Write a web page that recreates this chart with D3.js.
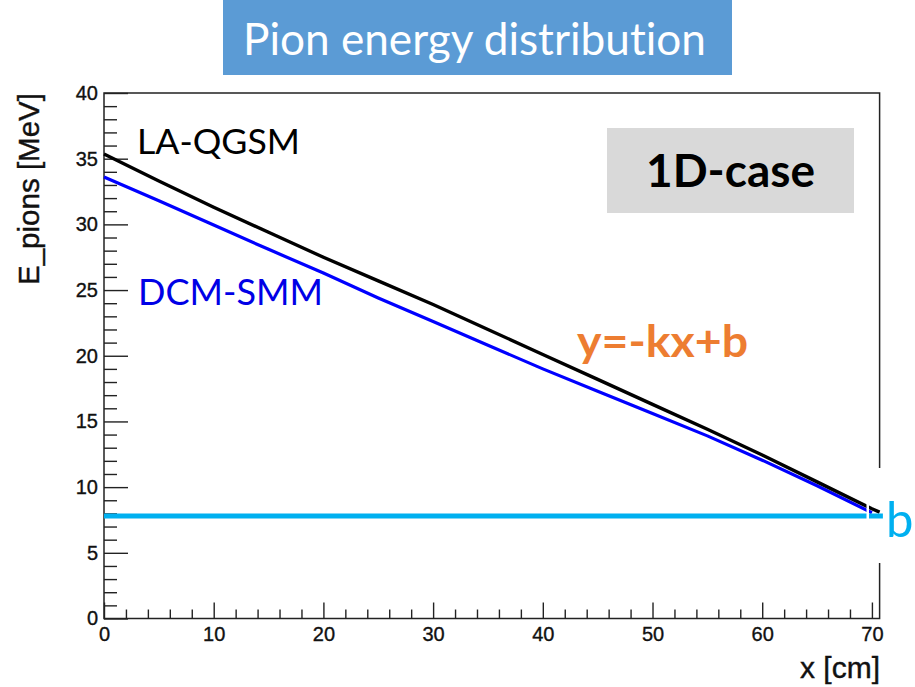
<!DOCTYPE html>
<html>
<head>
<meta charset="utf-8">
<script src="https://cdn.jsdelivr.net/npm/d3@7"></script>
<style>
  html, body { margin: 0; padding: 0; background: #fff; }
  svg { display: block; }
  text { font-variant-ligatures: none; }
</style>
</head>
<body>
<svg id="chart" width="915" height="687"></svg>
<script>
// Mean pion energy along the target, two transport models
const xCm      = [0, 5, 10, 15, 20, 25, 30, 35, 40, 45, 50, 55, 60, 65, 70, 70.7];
const laqgsm   = [35.35, 33.3, 31.3, 29.4, 27.5, 25.7, 23.9, 22.0, 20.1, 18.2, 16.3, 14.4, 12.45, 10.4, 8.35, 8.1];
const dcmXcm   = [0, 5, 10, 15, 20, 25, 30, 35, 40, 45, 50, 55, 60, 65, 70];
const dcmsmm   = [33.6, 31.8, 29.95, 28.1, 26.3, 24.4, 22.6, 20.8, 19.0, 17.3, 15.6, 13.9, 12.05, 10.1, 8.05];
const bLevel   = 7.8;           // intercept b of y = -kx + b
const bSpan    = [0, 71.0];
const xMajor   = [0, 10, 20, 30, 40, 50, 60, 70];
const yMajor   = [0, 5, 10, 15, 20, 25, 30, 35, 40];

const svg = d3.select("#chart");

const plotL = 104, plotR = 879.6, plotT = 93, plotB = 618.5;
const x = d3.scaleLinear().domain([0, 70.7]).range([plotL, plotR]);
const y = d3.scaleLinear().domain([0, 40]).range([plotB, plotT]);

// Title banner
svg.append("rect").attr("x", 223).attr("y", 0).attr("width", 509).attr("height", 75)
  .attr("fill", "#5b9bd5");
svg.append("text").attr("x", 243).attr("y", 55)
  .attr("font-family", "Lato, 'Open Sans', sans-serif").attr("font-size", 44)
  .attr("fill", "#fff").attr("textLength", 463).attr("lengthAdjust", "spacingAndGlyphs")
  .text("Pion energy distribution");

// Frame
svg.append("rect").attr("x", plotL).attr("y", plotT)
  .attr("width", plotR - plotL).attr("height", plotB - plotT)
  .attr("fill", "none").attr("stroke", "#222").attr("stroke-width", 1.5);

// Minor ticks
const yMinor = d3.range(0, 41, 1).filter(v => v % 5 !== 0);
const xMinor = d3.range(0, 71, 2).filter(v => v % 10 !== 0);

const tickFont = "'Liberation Sans', Arial, sans-serif";

const gyMinor = svg.append("g").attr("transform", `translate(${plotL},0)`)
  .call(d3.axisLeft(y).tickValues(yMinor).tickSizeInner(-13).tickSizeOuter(0).tickFormat(""));
const gyMajor = svg.append("g").attr("transform", `translate(${plotL},0)`)
  .call(d3.axisLeft(y).tickValues(yMajor).tickSizeInner(-24).tickSizeOuter(0).tickPadding(6)
    .tickFormat(d3.format("d")));
const gxMinor = svg.append("g").attr("transform", `translate(0,${plotB})`)
  .call(d3.axisBottom(x).tickValues(xMinor).tickSizeInner(-9).tickSizeOuter(0).tickFormat(""));
const gxMajor = svg.append("g").attr("transform", `translate(0,${plotB})`)
  .call(d3.axisBottom(x).tickValues(xMajor).tickSizeInner(-16).tickSizeOuter(0).tickPadding(8)
    .tickFormat(d3.format("d")));

[gyMinor, gyMajor, gxMinor, gxMajor].forEach(g => {
  g.select(".domain").remove();
  g.selectAll(".tick line").attr("stroke", "#222").attr("stroke-width", 1.4);
  g.selectAll(".tick text").attr("font-family", tickFont).attr("font-size", 20)
    .attr("fill", "#111").attr("stroke", "#111").attr("stroke-width", 0.35);
});

// Axis titles
svg.append("text")
  .attr("transform", `translate(39,${plotT}) rotate(-90)`)
  .attr("text-anchor", "end")
  .attr("font-family", tickFont).attr("font-size", 29).attr("fill", "#111")
  .attr("stroke", "#111").attr("stroke-width", 0.4)
  .attr("textLength", 192).attr("lengthAdjust", "spacingAndGlyphs")
  .text("E_pions [MeV]");
svg.append("text").attr("x", 880).attr("y", 678).attr("text-anchor", "end")
  .attr("font-family", tickFont).attr("font-size", 29).attr("fill", "#111")
  .attr("stroke", "#111").attr("stroke-width", 0.4)
  .attr("textLength", 80).attr("lengthAdjust", "spacingAndGlyphs")
  .text("x [cm]");

// Blank patch behind the "b" marker on the right edge
svg.append("rect").attr("x", 870).attr("y", 468).attr("width", 14).attr("height", 95).attr("fill", "#fff");

// Model curves
const line = d3.line().x(d => x(d[0])).y(d => y(d[1]));
svg.append("path").datum(d3.zip(dcmXcm, dcmsmm)).attr("d", line)
  .attr("fill", "none").attr("stroke", "#0000ff").attr("stroke-width", 3.2).attr("stroke-linejoin", "round");
svg.append("path").datum(d3.zip(xCm, laqgsm)).attr("d", line)
  .attr("fill", "none").attr("stroke", "#000").attr("stroke-width", 3.4).attr("stroke-linejoin", "round");

// Intercept level b
svg.append("line").attr("x1", x(bSpan[0])).attr("x2", x(bSpan[1]))
  .attr("y1", y(bLevel)).attr("y2", y(bLevel))
  .attr("stroke", "#00b0f0").attr("stroke-width", 5);
svg.append("rect").attr("x", 866.5).attr("y", 500).attr("width", 2.5).attr("height", 22).attr("fill", "#fff");

// Annotations
const annoFont = "Lato, 'Open Sans', sans-serif";
svg.append("text").attr("x", 137).attr("y", 154).attr("font-family", annoFont)
  .attr("font-size", 35).attr("fill", "#000")
  .attr("textLength", 163).attr("lengthAdjust", "spacingAndGlyphs").text("LA-QGSM");
svg.append("text").attr("x", 138).attr("y", 305).attr("font-family", annoFont)
  .attr("font-size", 36).attr("fill", "#0000e6")
  .attr("textLength", 185).attr("lengthAdjust", "spacingAndGlyphs").text("DCM-SMM");

svg.append("rect").attr("x", 607).attr("y", 128).attr("width", 247).attr("height", 85).attr("fill", "#d9d9d9");
svg.append("text").attr("x", 646).attr("y", 187).attr("font-family", annoFont)
  .attr("font-size", 46).attr("font-weight", "bold").attr("fill", "#000")
  .attr("textLength", 169).attr("lengthAdjust", "spacingAndGlyphs").text("1D-case");

svg.append("text").attr("x", 577).attr("y", 357).attr("font-family", annoFont)
  .attr("font-size", 44).attr("font-weight", "bold").attr("fill", "#ed7d31")
  .attr("textLength", 171).attr("lengthAdjust", "spacingAndGlyphs").text("y=-kx+b");

svg.append("text").attr("x", 886).attr("y", 537).attr("font-family", annoFont)
  .attr("font-size", 49).attr("fill", "#00b0f0").text("b");
</script>
</body>
</html>
